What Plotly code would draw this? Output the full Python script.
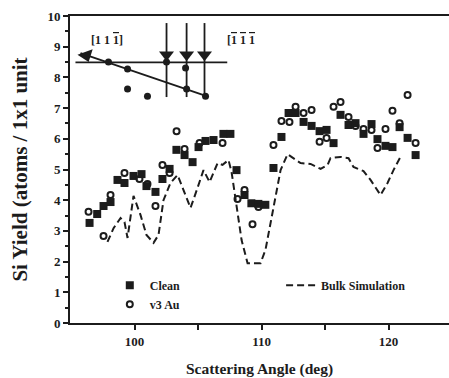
import plotly.graph_objects as go

# ---- data ----
clean_x = [96.46, 97.06, 97.56, 98.11, 98.66, 99.21, 99.92, 100.55, 100.94, 101.65, 102.2, 102.76,
           103.3, 103.94, 104.57, 105.04, 105.59, 106.22, 107.0, 107.55, 108.03, 108.66,
           109.2, 109.75, 110.3, 110.94, 111.57, 112.13, 112.68, 113.31, 113.94, 114.57, 115.12,
           115.67, 116.22, 116.85, 117.4, 118.03, 118.66, 119.13, 119.76, 120.31, 120.87, 121.5, 122.13]
clean_y = [3.26, 3.55, 3.81, 3.94, 4.66, 4.56, 4.79, 4.85, 4.46, 4.27, 4.69, 5.02,
           5.64, 5.47, 5.24, 5.73, 5.93, 5.96, 6.16, 6.16, 4.98, 4.17,
           3.9, 3.88, 3.85, 5.05, 6.06, 6.84, 6.84, 6.55, 6.42, 6.25, 6.29,
           5.86, 6.78, 6.45, 6.51, 6.16, 6.48, 5.99, 5.77, 5.73, 6.38, 6.03, 5.47]

au_x = [96.38, 97.56, 98.11, 99.21, 100.39, 101.02, 101.65, 102.2, 102.76, 103.31, 103.94,
        105.12, 106.93, 108.11, 108.66, 109.29, 109.76, 110.94, 111.57, 112.2, 112.68, 113.31,
        113.94, 114.57, 115.12, 115.67, 116.22, 116.85, 117.4, 118.03, 118.66, 119.13, 119.76,
        120.31, 120.87, 121.5, 122.13]
au_y = [3.62, 2.83, 4.17, 4.89, 4.69, 4.53, 3.81, 5.15, 4.89, 6.25, 5.67,
        5.86, 5.86, 4.04, 4.33, 3.22, 3.78, 5.80, 6.58, 6.55, 7.04, 6.84,
        6.94, 5.90, 6.03, 7.04, 7.20, 6.71, 6.42, 6.32, 6.29, 5.70, 6.32,
        6.91, 6.51, 7.43, 5.86]

bulk_x = [97.87, 98.35, 98.9, 99.21, 99.45, 99.92, 100.47, 100.94, 101.5, 101.89, 102.28, 102.83,
          103.39, 103.94, 104.41, 104.96, 105.43, 105.91, 106.54, 106.93, 107.4, 107.64, 108.03,
          108.43, 108.9, 109.92, 110.31, 110.87, 111.5, 112.05, 112.52, 113.07, 113.86, 114.65,
          115.2, 115.43, 116.22, 116.85, 117.24, 118.03, 118.58, 119.37, 119.92, 120.39, 120.94]
bulk_y = [2.64, 3.09, 3.42, 3.29, 2.77, 4.14, 3.52, 2.87, 2.61, 2.87, 4.0, 4.56,
          4.82, 4.27, 3.75, 4.40, 4.98, 4.59, 5.21, 5.15, 5.31, 4.92, 3.84,
          2.70, 1.95, 1.95, 2.38, 3.58, 4.98, 5.50, 5.37, 5.21, 5.18, 5.02,
          5.15, 5.37, 5.41, 5.37, 5.08, 4.95, 4.66, 4.17, 4.56, 4.98, 5.41]

# inset schematic (data units)
inset_hline_x = [95.35, 107.3]
inset_hline_y = [8.49, 8.49]
inset_slant_x = [95.75, 105.67]
inset_slant_y = [8.79, 7.39]
inset_dots_x = [97.95, 99.45, 102.52, 104.02, 104.1, 105.59, 99.45, 101.02]
inset_dots_y = [8.5, 8.27, 8.5, 8.31, 7.62, 7.39, 7.62, 7.39]
arrow_x = [102.52, 104.1, 105.51]
arrow_top = 9.77
arrow_bottom = 7.36
arrow_head_y = 8.74
left_tri_x = [96.2]
left_tri_y = [8.72]
x_tickvals = [100, 110, 120]
y_tickvals = list(range(0, 11))

INK = "#1c1c1c"
FONT = "Liberation Serif"
OL = "<span style='text-decoration:overline'>1</span>"

fig = go.Figure()

fig.add_trace(go.Scatter(x=clean_x, y=clean_y, mode="markers", name="Clean",
                         marker=dict(symbol="square", size=8, color=INK),
                         legend="legend"))
fig.add_trace(go.Scatter(x=au_x, y=au_y, mode="markers", name="v3 Au",
                         marker=dict(symbol="circle-open", size=6, color=INK, line=dict(width=2)),
                         legend="legend"))
fig.add_trace(go.Scatter(x=bulk_x, y=bulk_y, mode="lines", name="Bulk Simulation",
                         line=dict(color=INK, width=2, dash="7px,4px"),
                         legend="legend2"))

# inset lines
fig.add_trace(go.Scatter(x=inset_hline_x, y=inset_hline_y, mode="lines",
                         line=dict(color=INK, width=1.8), showlegend=False, hoverinfo="skip"))
fig.add_trace(go.Scatter(x=inset_slant_x, y=inset_slant_y, mode="lines",
                         line=dict(color=INK, width=1.8), showlegend=False, hoverinfo="skip"))
for ax in arrow_x:
    fig.add_trace(go.Scatter(x=[ax, ax], y=[arrow_top, arrow_bottom], mode="lines",
                             line=dict(color=INK, width=1.8), showlegend=False, hoverinfo="skip"))
fig.add_trace(go.Scatter(x=arrow_x, y=[arrow_head_y] * len(arrow_x), mode="markers",
                         marker=dict(symbol="triangle-down", size=13, color=INK),
                         showlegend=False, hoverinfo="skip"))
fig.add_trace(go.Scatter(x=inset_dots_x, y=inset_dots_y, mode="markers",
                         marker=dict(symbol="circle", size=7, color=INK),
                         showlegend=False, hoverinfo="skip"))
fig.add_trace(go.Scatter(x=left_tri_x, y=left_tri_y, mode="markers",
                         marker=dict(symbol="triangle-down", size=14, color=INK, angle=-20),
                         showlegend=False, hoverinfo="skip"))

fig.add_annotation(x=97.8, y=9.22, text="<b>[1 1 " + OL + "]</b>", showarrow=False,
                   font=dict(family=FONT, size=12, color=INK))
fig.add_annotation(x=108.35, y=9.22, text="<b>[" + OL + " " + OL + " " + OL + "</b>", showarrow=False,
                   font=dict(family=FONT, size=12, color=INK))

fig.update_layout(
    width=449, height=378,
    margin=dict(l=70, r=0, t=16, b=55),
    paper_bgcolor="white", plot_bgcolor="white",
    font=dict(family=FONT, size=13, color=INK),
    legend=dict(x=0.105, y=0.17, xanchor="left", yanchor="top",
                font=dict(family=FONT, size=12, color=INK, weight="bold"),
                bgcolor="rgba(0,0,0,0)", tracegroupgap=0),
    legend2=dict(x=0.557, y=0.17, xanchor="left", yanchor="top",
                 font=dict(family=FONT, size=12, color=INK, weight="bold"),
                 bgcolor="rgba(0,0,0,0)"),
    xaxis=dict(range=[94.92, 124.76], tickvals=x_tickvals, ticktext=[str(v) for v in x_tickvals],
               ticks="outside", ticklen=5, tickwidth=2, tickcolor=INK,
               minor=dict(tickvals=[105, 115], ticks="outside", ticklen=5, tickwidth=2, tickcolor=INK),
               showline=True, linewidth=2, linecolor=INK, mirror=True, showgrid=False, zeroline=False,
               tickfont=dict(family=FONT, size=13, color=INK, weight="bold"),
               title=dict(text="<b>Scattering Angle (deg)</b>", font=dict(family=FONT, size=15.5, color=INK),
                          standoff=16)),
    yaxis=dict(range=[0, 10], tickvals=y_tickvals, ticks="outside", ticklen=5, tickwidth=2, tickcolor=INK,
               minor=dict(dtick=0.5, ticks="outside", ticklen=3, tickwidth=1.5, tickcolor=INK),
               showline=True, linewidth=2, linecolor=INK, showgrid=False, zeroline=False,
               tickfont=dict(family=FONT, size=13, color=INK, weight="bold"),
               title=dict(text="<b>Si Yield (atoms / 1x1 unit</b>", font=dict(family=FONT, size=21, color=INK),
                          standoff=14)),
)

fig.write_html("out.html")
